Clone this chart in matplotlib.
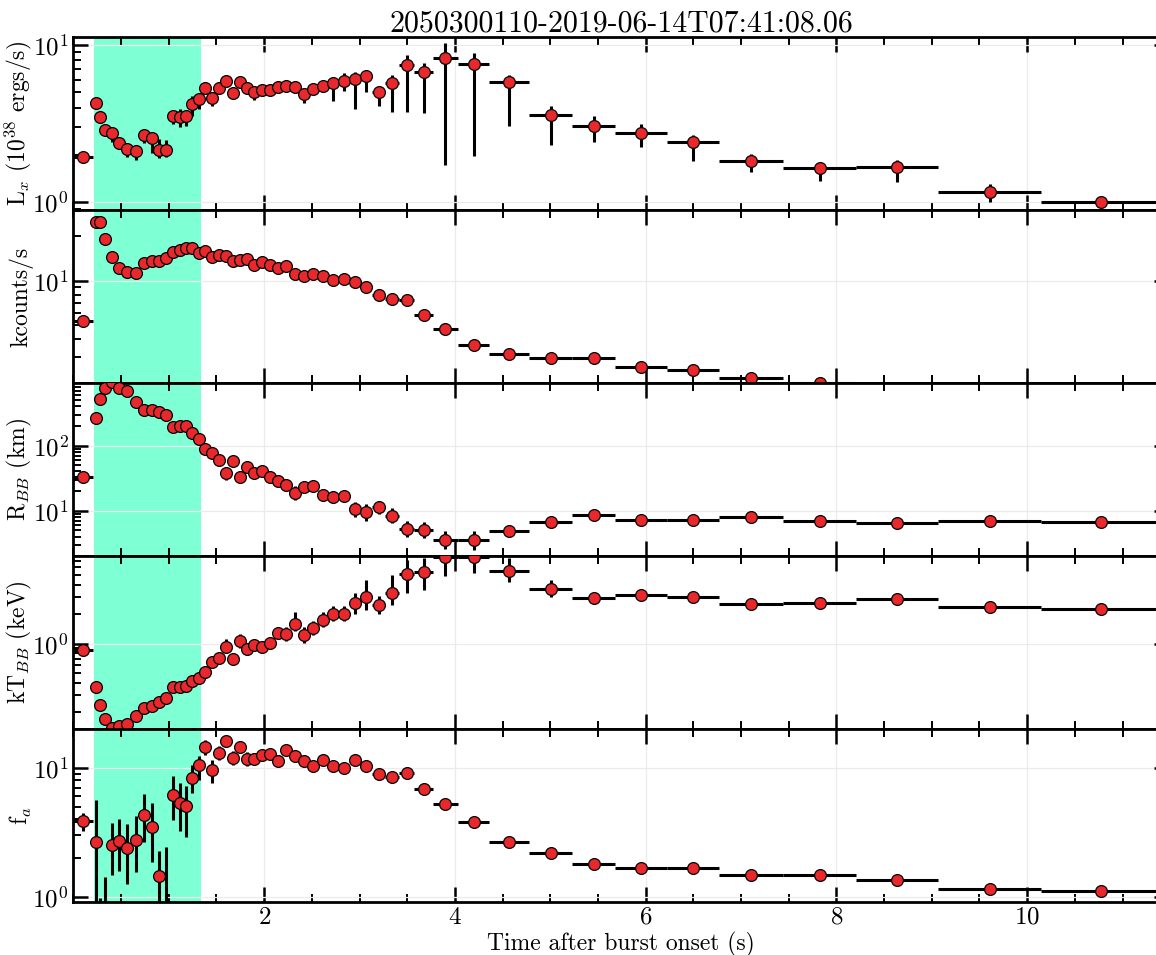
import matplotlib
matplotlib.use("Agg")
import matplotlib.pyplot as plt
import numpy as np
from matplotlib.ticker import LogLocator, NullFormatter, MultipleLocator, FixedLocator

plt.rcParams.update({
    "font.family": "serif",
    "font.serif": ["cmr10", "DejaVu Serif"],
    "mathtext.fontset": "cm",
    "axes.formatter.use_mathtext": True,
    "axes.unicode_minus": False,
    "axes.linewidth": 2.0,
})

title = "2050300110-2019-06-14T07:41:08.06"
xlabel = "Time after burst onset (s)"
ylabels = [r"L$_x$ (10$^{38}$ ergs/s)", "kcounts/s", r"R$_{BB}$ (km)",
           r"kT$_{BB}$ (keV)", r"f$_a$"]
xticks = [2, 4, 6, 8, 10]

# time bin edges (s)
bin_edges = [0, 0.21, 0.258, 0.305, 0.367, 0.437, 0.518, 0.612, 0.699, 0.783,
             0.863, 0.94, 1.012, 1.082, 1.15, 1.213, 1.278, 1.346, 1.416, 1.486,
             1.559, 1.635, 1.706, 1.78, 1.857, 1.938, 2.022, 2.106, 2.19, 2.278,
             2.372, 2.468, 2.566, 2.671, 2.78, 2.89, 3.007, 3.133, 3.27, 3.415,
             3.575, 3.77, 4.03, 4.36, 4.78, 5.23, 5.68, 6.22, 6.77, 7.44,
             8.21, 9.07, 10.14, 11.4]

shade_start, shade_end = 0.22, 1.34

# Luminosity (1e38 erg/s)
lx = [1.94, 4.26, 3.46, 2.88, 2.74, 2.38, 2.19, 2.13, 2.69, 2.55, 2.16, 2.16, 3.54,
      3.46, 3.51, 4.19, 4.51, 5.29, 4.62, 5.29, 5.88, 4.95, 5.79, 5.29, 5.04, 5.21,
      5.16, 5.42, 5.47, 5.42, 4.85, 5.26, 5.52, 5.74, 5.94, 6.11, 6.32, 5.01, 5.74,
      7.41, 6.70, 8.32, 7.60, 5.79, 3.59, 3.04, 2.76, 2.43, 1.82, 1.64, 1.68, 1.17, 1.01]
lx_lo = [0.12, 0.3, 0.2, 0.25, 0.33, 0.2, 0.25, 0.28, 0.3, 0.49, 0.25, 0.22, 0.4,
         0.46, 0.45, 0.65, 0.6, 0.3, 0.5, 0.3, 0.3, 0.3, 0.3, 0.3, 0.57, 0.3, 0.25,
         0.3, 0.4, 0.35, 0.55, 0.45, 0.5, 1.34, 0.85, 2.17, 1.3, 0.9, 2.0, 3.66, 3.0,
         6.6, 5.64, 2.73, 1.28, 0.61, 0.52, 0.61, 0.26, 0.28, 0.34, 0.16, 0.08]
lx_hi = [0.1, 0.3, 0.15, 0.2, 0.26, 0.2, 0.16, 0.17, 0.2, 0.21, 0.37, 0.32, 0.26,
         0.47, 0.3, 0.54, 0.46, 0.3, 0.3, 0.3, 0.3, 0.25, 0.3, 0.3, 0.29, 0.3, 0.25,
         0.3, 0.4, 0.3, 0.36, 0.3, 0.4, 0.34, 0.69, 0.59, 0.5, 0.5, 0.75, 1.24, 1.0,
         2.0, 1.33, 0.69, 0.5, 0.5, 0.38, 0.25, 0.21, 0.16, 0.18, 0.13, 0.06]

# Count rate (kcounts/s)
rate = [5.30, 25.0, 25.0, 19.2, 14.5, 12.2, 11.5, 11.2, 13.2, 13.6, 13.5, 14.3, 15.7,
        16.1, 16.7, 16.8, 15.5, 15.8, 14.6, 15.0, 14.8, 13.6, 13.9, 14.1, 12.7, 13.4,
        12.7, 12.2, 12.5, 11.1, 10.7, 11.1, 10.7, 10.1, 10.3, 9.84, 9.0, 8.0, 7.48,
        7.40, 5.83, 4.70, 3.62, 3.16, 2.96, 2.96, 2.57, 2.45, 2.16, 2.0, 1.8, 1.6, 1.45]

# Blackbody radius (km)
rbb = [32.7, 264, 523, 764, 944, 764, 687, 475, 358, 354, 326, 300, 192, 199, 199,
       157, 124, 88.9, 77.3, 60.3, 37.6, 58.7, 33.3, 47.5, 37.6, 40.4, 33.3, 28.3,
       24.8, 18.5, 22.9, 24.3, 17.5, 16.1, 17.0, 10.6, 9.44, 11.3, 8.37, 5.22, 5.05,
       3.58, 3.54, 4.92, 6.78, 8.59, 7.28, 7.28, 7.91, 7.01, 6.40, 7.01, 6.78]
rbb_lo = [3, 10, 20, 30, 40, 30, 25, 20, 15, 15, 12, 12, 10, 10, 10, 8, 6, 6, 5, 8,
          8, 8, 6, 7, 6, 7, 5, 5, 5, 4, 4, 4, 3, 3, 3, 2.5, 2.5, 2.5, 2, 1.3, 1.3,
          1.0, 1.1, 0.8, 0.6, 0.7, 0.6, 0.6, 0.6, 0.6, 0.5, 0.5, 0.5]
rbb_hi = [3, 10, 20, 30, 40, 30, 25, 20, 15, 15, 12, 12, 10, 10, 10, 8, 6, 8, 6, 10,
          10, 10, 8, 9, 8, 9, 6, 6, 6, 5, 5, 5, 4, 4, 4, 3, 3, 3, 2.5, 1.6, 1.6,
          1.3, 1.3, 1.0, 0.7, 0.8, 0.7, 0.7, 0.7, 0.7, 0.6, 0.6, 0.6]

# Blackbody temperature (keV)
ktbb = [0.853, 0.357, 0.235, 0.169, 0.138, 0.144, 0.150, 0.182, 0.222, 0.231, 0.254,
        0.277, 0.357, 0.357, 0.366, 0.411, 0.442, 0.510, 0.646, 0.711, 0.923, 0.700,
        1.06, 0.88, 0.96, 0.923, 1.02, 1.27, 1.24, 1.58, 1.22, 1.43, 1.74, 1.99, 1.99,
        2.58, 2.95, 2.48, 3.28, 5.18, 5.34, 7.7, 7.7, 5.56, 3.60, 2.91, 3.10, 2.95,
        2.54, 2.60, 2.86, 2.37, 2.26]
ktbb_lo = [0.04, 0.01, 0.01, 0.005, 0.005, 0.005, 0.005, 0.005, 0.008, 0.008, 0.01,
           0.01, 0.015, 0.015, 0.015, 0.02, 0.02, 0.03, 0.04, 0.05, 0.12, 0.08, 0.15,
           0.1, 0.12, 0.1, 0.12, 0.15, 0.18, 0.25, 0.2, 0.2, 0.25, 0.3, 0.3, 0.6, 0.75,
           0.5, 0.8, 1.9, 1.8, 2.8, 2.4, 1.3, 0.6, 0.3, 0.3, 0.3, 0.25, 0.25, 0.3, 0.2, 0.2]
ktbb_hi = [0.05, 0.01, 0.01, 0.005, 0.005, 0.005, 0.005, 0.005, 0.008, 0.008, 0.01,
           0.01, 0.015, 0.015, 0.015, 0.02, 0.02, 0.03, 0.05, 0.06, 0.2, 0.1, 0.2,
           0.12, 0.15, 0.12, 0.15, 0.2, 0.22, 0.5, 0.25, 0.25, 0.35, 0.4, 0.4, 0.7, 1.5,
           0.6, 1.7, 2.0, 2.2, 2.0, 2.0, 1.9, 0.9, 0.35, 0.4, 0.4, 0.3, 0.3, 0.35, 0.25, 0.25]

# Persistent emission scaling factor
fa = [3.84, 2.65, 0.5, 0.5, 2.50, 2.72, 2.38, 2.77, 4.33, 3.45, 1.45, 0.6, 6.13, 5.34,
      5.03, 8.37, 10.5, 14.4, 9.55, 13.1, 16.2, 12.0, 14.4, 11.8, 11.8, 12.6, 12.7,
      11.3, 13.7, 12.3, 11.4, 10.3, 11.6, 10.3, 9.89, 11.6, 10.3, 8.89, 8.53, 9.16,
      6.87, 5.28, 3.77, 2.64, 2.20, 1.79, 1.68, 1.68, 1.48, 1.48, 1.35, 1.15, 1.11]
fa_lo = [0.6, 2.5, 0.3, 0.3, 1.02, 1.15, 1.13, 1.22, 1.68, 1.58, 1.0, 0.3, 2.17, 2.13,
         2.1, 1.97, 2.4, 1.8, 1.9, 1.5, 1.5, 1.4, 1.4, 1.4, 1.2, 1.2, 1.2, 1.2, 1.2,
         1.0, 1.0, 1.0, 0.9, 0.9, 0.9, 0.8, 0.8, 0.6, 0.5, 0.5, 0.4, 0.3, 0.2, 0.15,
         0.15, 0.15, 0.12, 0.12, 0.1, 0.1, 0.08, 0.07, 0.06]
fa_hi = [0.6, 3.0, 0.48, 0.93, 1.23, 1.28, 1.28, 1.43, 1.94, 1.89, 0.82, 1.81, 2.47,
         2.31, 2.17, 2.23, 1.8, 2.0, 2.05, 1.6, 1.6, 1.5, 1.5, 1.4, 1.3, 1.3, 1.3, 1.2,
         1.2, 1.1, 1.1, 1.0, 1.0, 1.0, 0.9, 0.9, 0.8, 0.6, 0.5, 0.5, 0.4, 0.3, 0.2,
         0.15, 0.15, 0.15, 0.12, 0.12, 0.1, 0.1, 0.08, 0.07, 0.06]

ylims = [(0.89, 11.2), (2.0, 30.2), (2.0, 910), (0.134, 7.8), (0.91, 20.0)]
xlim = (0, 11.49)

edges = np.array(bin_edges)
t = 0.5 * (edges[:-1] + edges[1:])
dt = 0.5 * (edges[1:] - edges[:-1])

series = [
    (lx, [lx_lo, lx_hi]),
    (rate, None),
    (rbb, [rbb_lo, rbb_hi]),
    (ktbb, [ktbb_lo, ktbb_hi]),
    (fa, [fa_lo, fa_hi]),
]

fig = plt.figure(figsize=(11.56, 9.55), dpi=100)
gs = fig.add_gridspec(5, 1, left=0.0635, right=1.0115, top=0.961, bottom=0.0555, hspace=0)
axes = []
for i in range(5):
    ax = fig.add_subplot(gs[i], sharex=axes[0] if axes else None)
    axes.append(ax)

for i, (ax, (vals, yerr)) in enumerate(zip(axes, series)):
    ax.axvspan(shade_start, shade_end, color="#7FFFD4", lw=0, zorder=0)
    ye = None if yerr is None else [np.array(yerr[0]), np.array(yerr[1])]
    ax.errorbar(t, np.array(vals), xerr=dt, yerr=ye, fmt="o", mfc="#E8282B", mec="black",
                ms=8.5, mew=0.9, ecolor="black", elinewidth=2.2, capsize=0, zorder=3)
    ax.set_yscale("log")
    ax.set_ylim(*ylims[i])
    ax.set_xlim(*xlim)
    ax.yaxis.set_major_locator(LogLocator(base=10, numticks=20))
    ax.yaxis.set_minor_locator(LogLocator(base=10, subs=np.arange(2, 10), numticks=20))
    ax.yaxis.set_minor_formatter(NullFormatter())
    ax.xaxis.set_major_locator(FixedLocator(xticks))
    ax.xaxis.set_minor_locator(MultipleLocator(0.5))
    ax.grid(True, which="major", color="#ebebeb", lw=0.9)
    ax.set_axisbelow(True)
    ax.tick_params(which="both", direction="in", top=True, right=True, labelsize=18)
    ax.tick_params(which="major", length=11, width=1.8)
    ax.tick_params(which="minor", length=6, width=1.4)
    ax.set_ylabel(ylabels[i], fontsize=17, labelpad=-1)
    if i < 4:
        ax.tick_params(labelbottom=False)

axes[0].set_title(title, fontsize=21.5, pad=3)
axes[4].set_xlabel(xlabel, fontsize=17, labelpad=2)
fig.align_ylabels(axes)

fig.savefig("out.png", dpi=100)
